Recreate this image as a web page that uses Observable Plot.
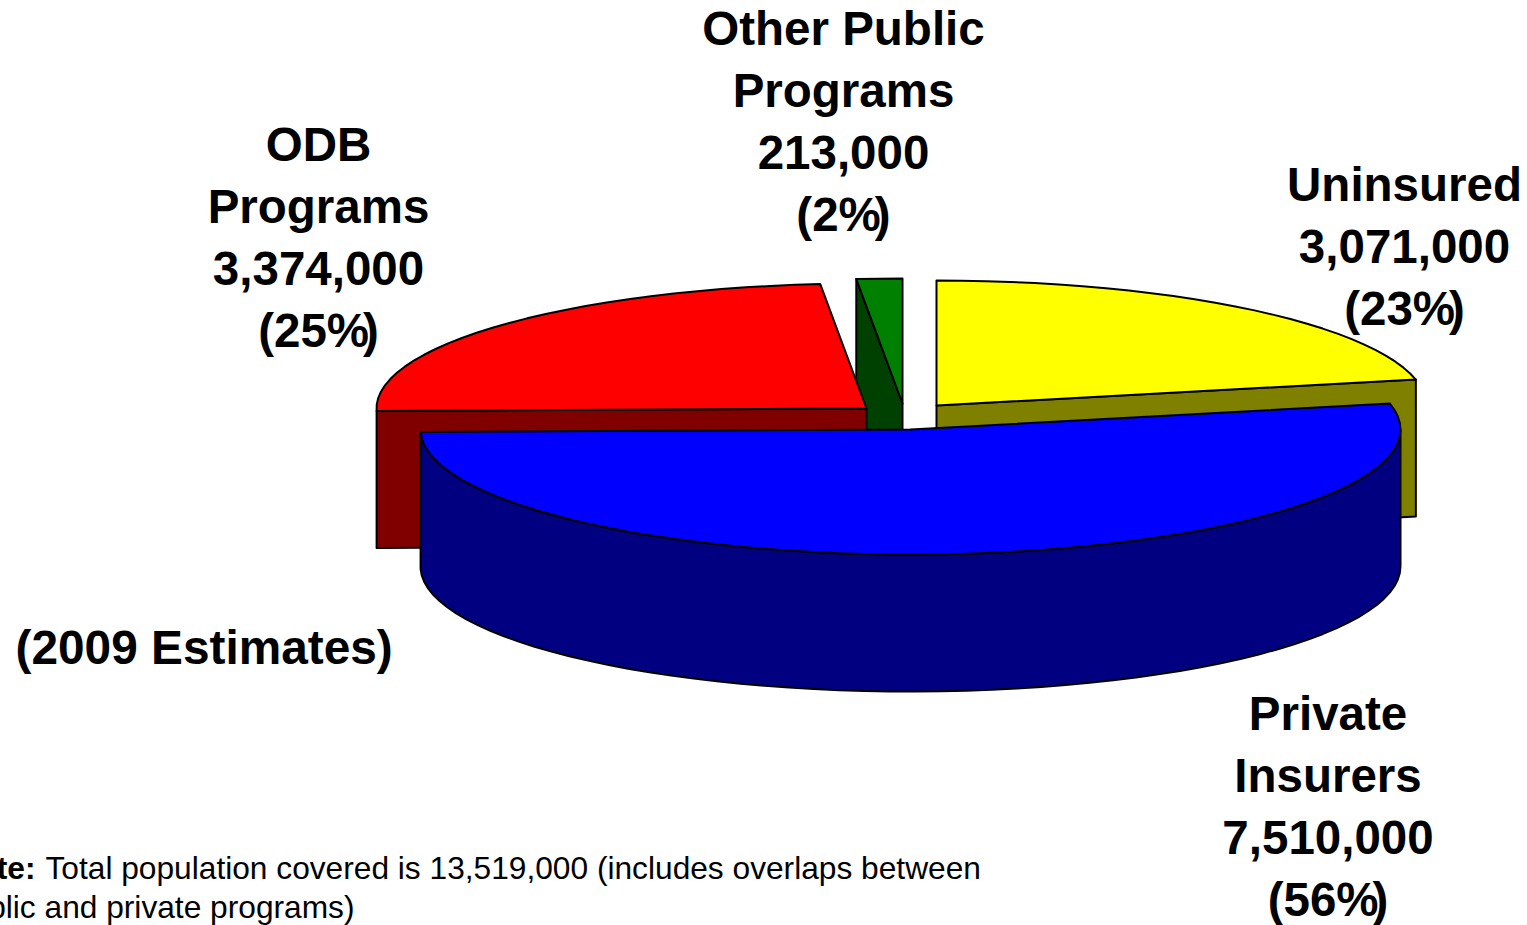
<!DOCTYPE html>
<html>
<head>
<meta charset="utf-8">
<script src="https://cdn.jsdelivr.net/npm/d3@7"></script>
<script src="https://cdn.jsdelivr.net/npm/@observablehq/plot@0.6"></script>
<style>
  html, body { margin: 0; padding: 0; background: #fff; overflow: hidden; }
  svg { display: block; }
</style>
</head>
<body>
<script>
// Drug coverage by payer, 2009 estimates; slices run clockwise from twelve o'clock.
const payers = ["Uninsured", "Private Insurers", "ODB Programs", "Other Public Programs"];
const people = [3071000, 7510000, 3374000, 213000];
const shares = ["(23%)", "(56%)", "(25%)", "(2%)"];
const topColors = ["#ffff00", "#0000ff", "#ff0000", "#008000"];
const sideColors = ["#808000", "#000080", "#800000", "#004000"];

// Label placement, one entry per payer.
const labelLines = ["Uninsured", "Private\nInsurers", "ODB\nPrograms", "Other Public\nPrograms"];
const labelX = [1404, 1327.5, 318, 843];
const labelTop = [157, 686, 117, 1];

// Where each exploded slice has its tip.
const tipX = [936, 910, 866, 902];
const tipY = [405, 429, 408, 403];

const radiusX = 490;
const radiusY = 125;
const depth = 137;

const format = d3.format(",");
const total = d3.sum(people);

function rimPoint(i, turn, drop = 0) {
  const a = turn * 2 * Math.PI;
  return {
    x: tipX[i] + radiusX * Math.sin(a),
    y: tipY[i] - radiusY * Math.cos(a) + drop
  };
}

function rim(i, from, to, drop = 0) {
  const steps = Math.max(1, Math.ceil((to - from) * 120));
  return d3.range(steps + 1).map((k) => rimPoint(i, from + ((to - from) * k) / steps, drop));
}

// Turn at which each slice starts and ends.
let running = 0;
const spans = people.map((v) => {
  const from = running / total;
  running += v;
  return [from, running / total];
});

const topFace = (i) => {
  const [from, to] = spans[i];
  const tip = { x: tipX[i], y: tipY[i] };
  return [tip, ...rim(i, from, to), tip];
};

// Flat wall along the radius at a given turn.
const cutFace = (i, turn) => {
  const outer = rimPoint(i, turn);
  const outerLow = rimPoint(i, turn, depth);
  const tip = { x: tipX[i], y: tipY[i] };
  const tipLow = { x: tipX[i], y: tipY[i] + depth };
  return [tip, outer, outerLow, tipLow, tip];
};

// Curved wall between two turns.
const outerWall = (i, from, to) => {
  const upper = rim(i, from, to);
  const lower = rim(i, from, to, depth).reverse();
  return [...upper, ...lower, upper[0]];
};

const face = (points, fill) =>
  Plot.line(points, {
    x: "x",
    y: "y",
    fill,
    stroke: "#000",
    strokeWidth: 2,
    curve: "linear",
    strokeLinejoin: "round"
  });

const [uninsured, priv, odb, other] = [0, 1, 2, 3];

const pieMarks = [
  // Back to front: the blue wedge overlaps everything behind it.
  face(cutFace(other, spans[other][0]), sideColors[other]),
  face(topFace(other), topColors[other]),
  face(cutFace(uninsured, spans[uninsured][1]), sideColors[uninsured]),
  face(topFace(uninsured), topColors[uninsured]),
  face(cutFace(odb, spans[odb][0]), sideColors[odb]),
  face(topFace(odb), topColors[odb]),
  face(outerWall(priv, 0.25, spans[priv][1]), sideColors[priv]),
  face(topFace(priv), topColors[priv])
];

const labels = payers.map((p, i) => ({
  x: labelX[i],
  y: labelTop[i],
  text: `${labelLines[i]}\n${format(people[i])}\n${shares[i]}`
}));

const chart = Plot.plot({
  width: 1527,
  height: 925,
  margin: 0,
  x: { domain: [0, 1527], range: [0, 1527], axis: null },
  y: { domain: [0, 925], range: [0, 925], axis: null },
  style: { background: "#fff", overflow: "hidden" },
  marks: [
    ...pieMarks,
    Plot.text(labels, {
      x: "x",
      y: "y",
      text: "text",
      fontFamily: "Liberation Sans",
      fontWeight: "bold",
      fontSize: 47.5,
      lineHeight: 1.3,
      lineAnchor: "top",
      textAnchor: "middle",
      fill: "#000"
    }),
    Plot.text(["(2009 Estimates)"], {
      x: 15,
      y: 663,
      fontFamily: "Liberation Sans",
      fontWeight: "bold",
      fontSize: 47.8,
      lineAnchor: "bottom",
      textAnchor: "start",
      fill: "#000"
    }),
    Plot.text(["Note:"], {
      x: 35,
      y: 878,
      fontFamily: "Liberation Sans",
      fontWeight: "bold",
      fontSize: 31.7,
      lineAnchor: "bottom",
      textAnchor: "end",
      fill: "#000"
    }),
    Plot.text(["Total population covered is 13,519,000 (includes overlaps between"], {
      x: 45,
      y: 878,
      fontFamily: "Liberation Sans",
      fontSize: 31.7,
      lineAnchor: "bottom",
      textAnchor: "start",
      fill: "#000"
    }),
    Plot.text(["public and private programs)"], {
      x: 354,
      y: 917,
      fontFamily: "Liberation Sans",
      fontSize: 31.7,
      lineAnchor: "bottom",
      textAnchor: "end",
      fill: "#000"
    })
  ]
});

// Tuck the closing bracket of each percentage in against the % sign.
d3.select(chart)
  .selectAll("tspan")
  .filter(function () { return this.textContent.endsWith("%)"); })
  .each(function () {
    const n = this.textContent.length;
    const shifts = d3.range(n).map((k) => (k === n - 1 ? -6 : 0));
    shifts[0] = this.getAttribute("dx") || 0;
    this.setAttribute("dx", shifts.join(" "));
  });

document.body.appendChild(chart);
</script>
</body>
</html>
